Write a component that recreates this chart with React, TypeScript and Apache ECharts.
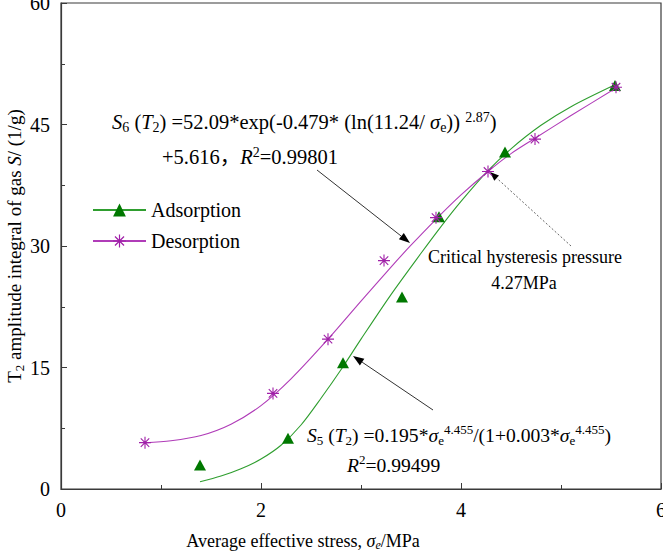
import React, { useEffect, useRef } from "react";
import * as echarts from "echarts";

// ---- data ----
const adsStress = [1.39, 2.27, 2.82, 3.41, 3.78, 4.44, 5.54];
const adsValue = [2.96, 6.26, 15.6, 23.7, 33.6, 41.6, 49.8];
const desStress = [0.84, 2.12, 2.67, 3.23, 3.75, 4.27, 4.74, 5.55];
const desValue = [5.72, 11.8, 18.5, 28.2, 33.5, 39.2, 43.2, 49.6];

// fitted curves, points
const adsFitX = [1.39, 1.6, 1.8, 2.0, 2.2, 2.4, 2.6, 2.82, 3.0, 3.3, 3.6, 3.8, 4.0, 4.27, 4.5, 4.8, 5.1, 5.54];
const adsFitY = [0.9, 1.6, 2.5, 3.7, 5.4, 7.9, 11.2, 15.1, 18.5, 24.0, 29.1, 32.4, 35.5, 39.3, 42.0, 44.9, 47.2, 49.9];
const desFitX = [0.84, 1.1, 1.4, 1.7, 2.0, 2.3, 2.67, 3.0, 3.3, 3.5, 3.75, 4.0, 4.27, 4.5, 4.74, 5.1, 5.55];
const desFitY = [5.7, 5.95, 6.6, 8.0, 10.3, 13.6, 18.5, 23.2, 27.4, 30.1, 33.3, 36.3, 39.2, 41.4, 43.3, 46.1, 49.5];

const xTicks = { min: 0, max: 6, interval: 2 };
const yTicks = { min: 0, max: 60, interval: 15 };

const FF = "'Liberation Serif', 'Times New Roman', 'Noto Sans CJK SC', serif";
const ASTER =
  "path://M6,0L6,12M0,6L12,6M1.76,1.76L10.24,10.24M1.76,10.24L10.24,1.76";

const GREEN_LINE = "#2f9e2f";
const GREEN_MK = "#007800";
const PURP_LINE = "#b03cb8";
const PURP_MK = "#a020a8";

const pairs = (xs: number[], ys: number[]) => xs.map((x, i) => [x, ys[i]]);

function arrow(x1: number, y1: number, x2: number, y2: number, dashed: boolean, head = 11, w = 4) {
  const dx = x2 - x1, dy = y2 - y1;
  const L = Math.hypot(dx, dy);
  const ux = dx / L, uy = dy / L;
  const bx = x2 - ux * head, by = y2 - uy * head;
  const px = -uy, py = ux;
  return [
    {
      type: "line",
      shape: { x1, y1, x2: bx, y2: by },
      style: {
        stroke: dashed ? "#555" : "#333",
        lineWidth: dashed ? 0.9 : 1,
        lineDash: dashed ? [2, 2] : null,
      },
    },
    {
      type: "polygon",
      shape: { points: [[x2, y2], [bx + px * w, by + py * w], [bx - px * w, by - py * w]] },
      style: { fill: "#000" },
    },
  ];
}

function richSet(base: number, lh: number) {
  const sub = Math.round(base * 0.68);
  return {
    i: { fontStyle: "italic", fontSize: base, fontFamily: FF, lineHeight: lh, fill: "#000" },
    sub: { fontSize: sub, fontFamily: FF, lineHeight: 14, verticalAlign: "bottom", fill: "#000" },
    isub: { fontStyle: "italic", fontSize: sub, fontFamily: FF, lineHeight: 14, verticalAlign: "bottom", fill: "#000" },
    sup: { fontSize: sub, fontFamily: FF, lineHeight: 14, verticalAlign: "top", fill: "#000" },
  };
}

function txt(x: number, y: number, text: string, size: number, align = "left", rotation = 0, lh = 24) {
  return {
    type: "text",
    x,
    y,
    rotation,
    style: {
      text,
      fontSize: size,
      fontFamily: FF,
      lineHeight: lh,
      fill: "#000",
      align,
      verticalAlign: "middle",
      rich: richSet(size, lh),
    },
  };
}

export default function App() {
  const ref = useRef<HTMLDivElement>(null);
  useEffect(() => {
    const chart = echarts.init(ref.current!, null, { renderer: "svg" });
    const axisCommon = {
      type: "value",
      axisLine: { show: true, lineStyle: { color: "#3a3a3a", width: 1.2 } },
      axisTick: { show: true, inside: true, length: 6, lineStyle: { color: "#3a3a3a" } },
      minorTick: { show: true, splitNumber: 2, length: 4, lineStyle: { color: "#3a3a3a" } },
      splitLine: { show: false },
      axisLabel: { fontSize: 20, fontFamily: FF, color: "#000", margin: 11 },
    };
    chart.setOption({
      animation: false,
      backgroundColor: "#fff",
      grid: {
        left: 61,
        right: 2,
        top: 3,
        bottom: 64,
        show: true,
        borderColor: "#3a3a3a",
        borderWidth: 1.2,
        containLabel: false,
        outerBoundsMode: "none",
      },
      xAxis: { ...axisCommon, ...xTicks },
      yAxis: { ...axisCommon, ...yTicks },
      legend: {
        orient: "vertical",
        left: 92,
        top: 200,
        padding: 0,
        itemWidth: 53,
        itemHeight: 16,
        itemGap: 11,
        textStyle: { fontSize: 20, fontFamily: FF, color: "#000", lineHeight: 20 },
        data: [
          { name: "Adsorption", itemStyle: { color: GREEN_MK, borderWidth: 0 } },
          { name: "Desorption", itemStyle: { color: PURP_MK, borderColor: PURP_MK, borderWidth: 1.2 } },
        ],
      },
      series: [
        {
          name: "Adsorption",
          type: "line",
          smooth: 0.3,
          showSymbol: false,
          symbol: "triangle",
          data: pairs(adsFitX, adsFitY),
          lineStyle: { color: GREEN_LINE, width: 1.1 },
          itemStyle: { color: GREEN_MK },
          z: 2,
        },
        {
          name: "Desorption",
          type: "line",
          smooth: 0.3,
          showSymbol: false,
          symbol: ASTER,
          data: pairs(desFitX, desFitY),
          lineStyle: { color: PURP_LINE, width: 1.1 },
          itemStyle: { color: PURP_MK, borderColor: PURP_MK, borderWidth: 1.2 },
          z: 2,
        },
        {
          name: "adsPts",
          type: "scatter",
          symbol: "triangle",
          symbolSize: [12, 11],
          data: pairs(adsStress, adsValue),
          itemStyle: { color: GREEN_MK, opacity: 1 },
          z: 3,
        },
        {
          name: "desPts",
          type: "scatter",
          symbol: ASTER,
          symbolSize: 12,
          symbolKeepAspect: true,
          data: pairs(desStress, desValue),
          itemStyle: { color: PURP_MK, borderColor: PURP_MK, borderWidth: 1.1, opacity: 1 },
          z: 3,
        },
      ],
      graphic: [
        txt(112, 122, "{i|S}{sub|6} ({i|T}{sub|2}) =52.09*exp(-0.479* (ln(11.24/ {i|σ}{sub|e})) {sup|2.87})", 20.5),
        txt(162, 157, "+5.616，{i|R}{sup|2}=0.99801", 20.5),
        txt(307, 435, "{i|S}{sub|5} ({i|T}{sub|2}) =0.195*{i|σ}{sub|e}{sup|4.455}/(1+0.003*{i|σ}{sub|e}{sup|4.455})", 19.6),
        txt(347, 465, "{i|R}{sup|2}=0.99499", 19.6),
        txt(428, 257, "Critical hysteresis pressure", 18),
        txt(524, 283, "4.27MPa", 18, "center"),
        txt(303, 541, "Average effective stress, {i|σ}{isub|e}/MPa", 18, "center", 0, 20),
        txt(14, 246, "T{sub|2} amplitude integral of gas {i|S}/ (1/g)", 19, "center", Math.PI / 2),
        ...arrow(317, 170, 410, 243, false),
        ...arrow(433, 410, 353, 356, false),
        ...arrow(571, 246, 490, 172, true, 9, 3.5),
      ],
    });
    return () => chart.dispose();
  }, []);
  return (
    <div
      ref={ref}
      style={{ position: "fixed", left: 0, top: 0, width: 663, height: 553 }}
    />
  );
}
